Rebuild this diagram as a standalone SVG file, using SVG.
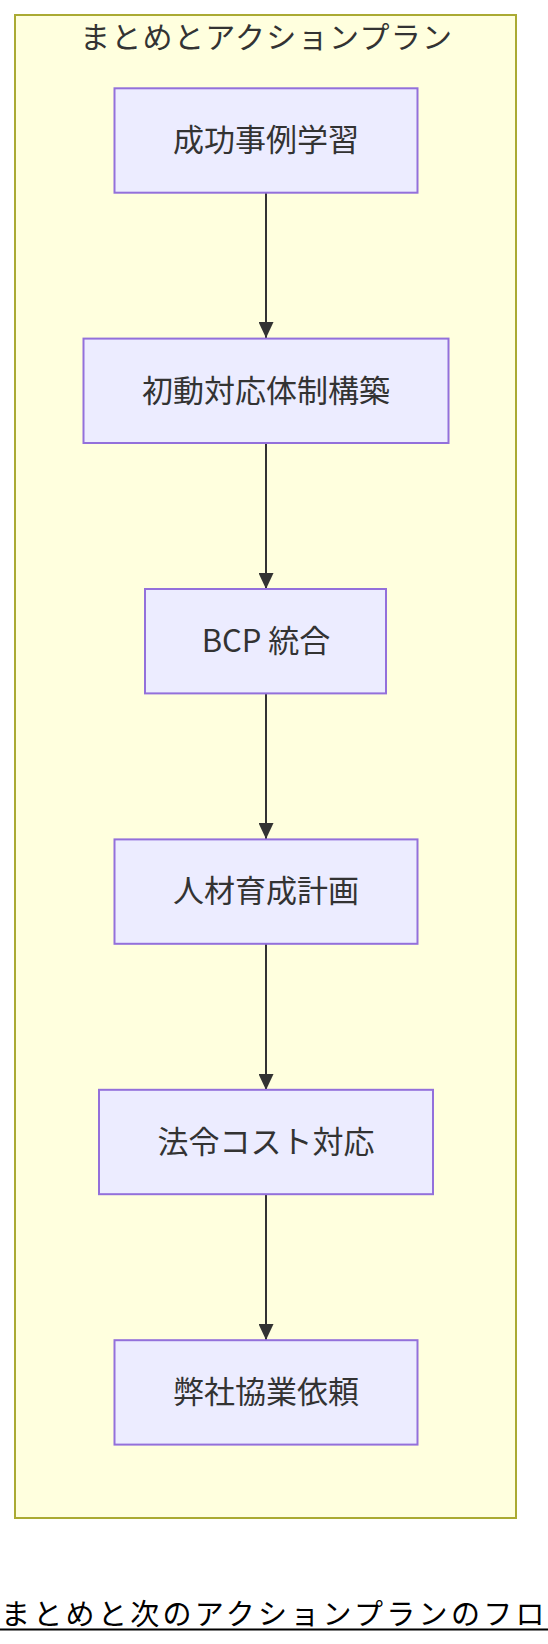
<svg xmlns="http://www.w3.org/2000/svg" width="548" height="1644" viewBox="0 0 548 1644">
<style>
.cluster{fill:#ffffde;stroke:#aaaa33;stroke-width:2}
.node rect{fill:#ececff;stroke:#9370db;stroke-width:2}
.lbl{font-family:"Noto Sans CJK JP","Noto Sans",sans-serif;font-size:31px;fill:#333333;text-anchor:middle}
.title{font-family:"Noto Sans CJK JP","Noto Sans",sans-serif;font-size:30px;fill:#333333;text-anchor:middle}
.edge{stroke:#333333;stroke-width:2;fill:none}
.foot{font-family:"Noto Sans CJK JP","Noto Sans",sans-serif;font-size:29px;fill:#000000;letter-spacing:3.3px}
</style>
<defs>
<marker id="arr" viewBox="0 0 16 15" refX="16" refY="7.5" markerWidth="16" markerHeight="15" markerUnits="userSpaceOnUse" orient="auto">
<path d="M0,0 L16,7.5 L0,15 z" fill="#333333"/>
</marker>
</defs>
<g id="cluster-summary">
<rect class="cluster" x="15" y="15" width="501" height="1503"/>
<text class="title" x="266" y="48" textLength="372" lengthAdjust="spacing">まとめとアクションプラン</text>
</g>
<g id="edges">
<line class="edge" x1="266" y1="193" x2="266" y2="338" marker-end="url(#arr)"/>
<line class="edge" x1="266" y1="443" x2="266" y2="589" marker-end="url(#arr)"/>
<line class="edge" x1="266" y1="693" x2="266" y2="839" marker-end="url(#arr)"/>
<line class="edge" x1="266" y1="944" x2="266" y2="1090" marker-end="url(#arr)"/>
<line class="edge" x1="266" y1="1194" x2="266" y2="1340" marker-end="url(#arr)"/>
</g>
<g id="n1" class="node">
<rect x="114.5" y="88.3" width="303" height="104.4"/>
<text class="lbl" x="266" y="151">成功事例学習</text>
</g>
<g id="n2" class="node">
<rect x="83.5" y="338.6" width="365" height="104.4"/>
<text class="lbl" x="266" y="401.5">初動対応体制構築</text>
</g>
<g id="n3" class="node">
<rect x="145" y="589" width="241" height="104.4"/>
<text class="lbl" x="266" y="652">BCP 統合</text>
</g>
<g id="n4" class="node">
<rect x="114.5" y="839.4" width="303" height="104.4"/>
<text class="lbl" x="266" y="902.3">人材育成計画</text>
</g>
<g id="n5" class="node">
<rect x="99" y="1089.8" width="334" height="104.4"/>
<text class="lbl" x="266" y="1152.7">法令コスト対応</text>
</g>
<g id="n6" class="node">
<rect x="114.5" y="1340.2" width="303" height="104.4"/>
<text class="lbl" x="266" y="1403.1">弊社協業依頼</text>
</g>
<g id="footer">
<text class="foot" x="1" y="1625">まとめと次のアクションプランのフロー</text>
<line x1="0" y1="1629.5" x2="548" y2="1629.5" stroke="#000000" stroke-width="2"/>
</g>
</svg>
